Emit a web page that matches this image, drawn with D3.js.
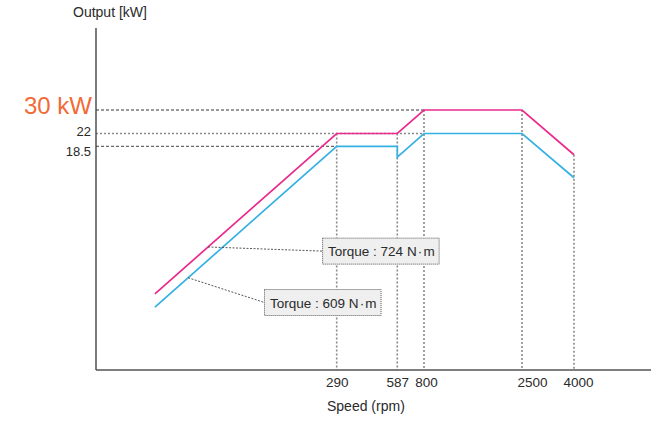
<!DOCTYPE html>
<html>
<head>
<meta charset="utf-8">
<script src="https://cdn.jsdelivr.net/npm/d3@7/dist/d3.min.js"></script>
<style>
  html, body { margin: 0; padding: 0; background: #fff; }
  svg { display: block; font-family: "Liberation Sans", Arial, sans-serif; }
</style>
</head>
<body>
<svg id="chart" width="651" height="424"></svg>
<script>
// Motor speed (rpm) at each corner of the output curves
const speeds = [71, 290, 587, 587, 800, 2500, 4000];
// Output (kW) of the two curves at those speeds
const output724 = [6.3, 22, 22, 22, 30, 30, 17.8];
const output609 = [5.2, 18.5, 18.5, 17.6, 22, 22, 15.9];

// Axis ticks
const speedTicks = [290, 587, 800, 2500, 4000];
const outputTicks = [18.5, 22, 30];
// Speed up to which each output reference line is drawn
const outputGuideSpeeds = [290, 800, 800];

// Torque call-outs: label, anchor speed on the curve, box position (rpm, kW)
const torqueLabels = ["Torque : 724 N\u200a\u00b7\u200am", "Torque : 609 N\u200a\u00b7\u200am"];
const torqueAnchorSpeeds = [135, 111];
const torqueBoxSpeeds = [273, 203];
const torqueBoxOutputs = [9.83, 5.58];

const svg = d3.select("#chart");

// Schematic (piecewise) scales
const x = d3.scaleLinear()
  .domain([0, 290, 587, 800, 2500, 4000, 5500])
  .range([96, 336.7, 397.3, 424, 522, 574, 651]);
const y = d3.scaleLinear()
  .domain([0, 18.5, 22, 30, 40])
  .range([370, 146.3, 133.5, 110, 28]);

const series = [
  { values: output724, color: "#ea2a8c" },
  { values: output609, color: "#35b1e4" }
];

// Vertical reference lines from the highest curve down to the speed axis
const g = svg.append("g");
speedTicks.forEach(s => {
  const top = d3.max(series, sr => d3.max(speeds.map((sp, i) => sp === s ? sr.values[i] : -Infinity)));
  g.append("line")
    .attr("x1", x(s)).attr("x2", x(s))
    .attr("y1", y(top)).attr("y2", y(0))
    .attr("stroke", "#8a8a8a").attr("stroke-width", 1.6)
    .attr("stroke-dasharray", "2,2");
});

// Horizontal reference lines from the output axis
const guideStyles = [
  { color: "#444", width: 1, dash: "3,2" },
  { color: "#8a8a8a", width: 1.5, dash: "2,2" },
  { color: "#333", width: 1, dash: "3,2" }
];
outputTicks.forEach((v, i) => {
  g.append("line")
    .attr("x1", x(0)).attr("x2", x(outputGuideSpeeds[i]))
    .attr("y1", y(v)).attr("y2", y(v))
    .attr("stroke", guideStyles[i].color)
    .attr("stroke-width", guideStyles[i].width)
    .attr("stroke-dasharray", guideStyles[i].dash);
});

// Output curves
const line = d3.line().x(d => x(d[0])).y(d => y(d[1]));
series.forEach(sr => {
  svg.append("path")
    .datum(speeds.map((s, i) => [s, sr.values[i]]))
    .attr("d", line)
    .attr("fill", "none")
    .attr("stroke", sr.color)
    .attr("stroke-width", 1.7);
});

// Torque call-outs with leader lines
series.forEach((sr, k) => {
  const x0 = x(speeds[0]), x1 = x(speeds[1]);
  const y0 = y(sr.values[0]), y1 = y(sr.values[1]);
  const ax = x(torqueAnchorSpeeds[k]);
  const ay = y0 + (ax - x0) / (x1 - x0) * (y1 - y0);
  const bx = x(torqueBoxSpeeds[k]);
  const by = y(torqueBoxOutputs[k]);

  svg.append("line")
    .attr("x1", ax).attr("y1", ay).attr("x2", bx).attr("y2", by)
    .attr("stroke", "#444").attr("stroke-width", 0.9)
    .attr("stroke-dasharray", "2,1.5");

  const box = svg.append("g");
  const rect = box.append("rect");
  const txt = box.append("text")
    .attr("x", bx + 5.5).attr("y", by + 5)
    .attr("font-size", 13.5).attr("fill", "#2a2a2a")
    .text(torqueLabels[k]);
  const w = txt.node().getComputedTextLength();
  rect.attr("x", bx).attr("y", by - 13)
    .attr("width", w + 10).attr("height", 26)
    .attr("fill", "#efefef").attr("stroke", "#444")
    .attr("stroke-width", 0.9).attr("stroke-dasharray", "1,1");
});

// Axes
const axisG = svg.append("g");
axisG.append("line")
  .attr("x1", x(0)).attr("x2", x(0)).attr("y1", y(40)).attr("y2", y(0))
  .attr("stroke", "#444").attr("stroke-width", 1.4);
axisG.append("line")
  .attr("x1", x(0)).attr("x2", x(5500)).attr("y1", y(0)).attr("y2", y(0))
  .attr("stroke", "#555").attr("stroke-width", 1.4);

const xAxis = svg.append("g")
  .attr("transform", `translate(0,${y(0)})`)
  .call(d3.axisBottom(x).tickValues(speedTicks).tickSize(0).tickPadding(7).tickFormat(d3.format("d")));
xAxis.select(".domain").remove();
xAxis.selectAll("text")
  .attr("font-family", "Liberation Sans, Arial, sans-serif")
  .attr("font-size", 13.5).attr("fill", "#2a2a2a")
  .attr("dx", d => d === 2500 ? 10 : d === 800 ? 2 : d === 4000 ? 4 : 0);

// Output tick labels
outputTicks.forEach(v => {
  const big = v === 30;
  svg.append("text")
    .attr("x", big ? 92 : 91)
    .attr("y", y(v) + (big ? 4 : v === 22 ? 2 : 10))
    .attr("text-anchor", "end")
    .attr("font-size", big ? 24 : 13)
    .attr("fill", big ? "#f26a35" : "#2a2a2a")
    .text(big ? "30 kW" : String(v));
});

// Axis titles
svg.append("text")
  .attr("x", 73).attr("y", 16.5)
  .attr("font-size", 14).attr("fill", "#2a2a2a")
  .text("Output [kW]");
svg.append("text")
  .attr("x", 327).attr("y", 410.5)
  .attr("font-size", 14).attr("fill", "#2a2a2a")
  .text("Speed (rpm)");
</script>
</body>
</html>
